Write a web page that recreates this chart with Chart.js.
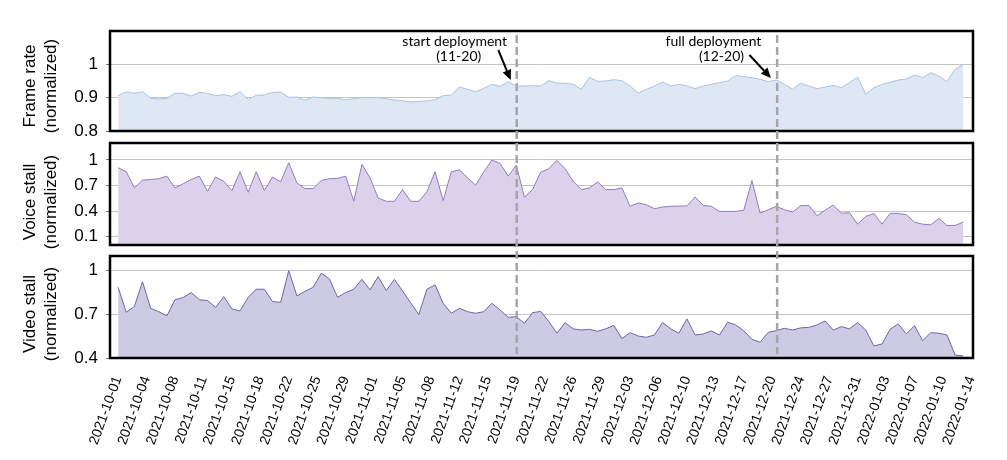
<!DOCTYPE html>
<html>
<head>
<meta charset="utf-8">
<title>Frame rate / voice stall / video stall</title>
<script src="https://cdn.jsdelivr.net/npm/chart.js@4.4.1/dist/chart.umd.min.js"></script>
<style>
  html, body { margin: 0; padding: 0; background: #fff; }
  #wrap { position: relative; width: 1007px; height: 460px; }
  #wrap canvas { position: absolute; left: 0; }
</style>
</head>
<body>
<div id="wrap">
  <canvas id="cFrame" width="1007" height="137" style="top:0"></canvas>
  <canvas id="cVoice" width="1007" height="114" style="top:137px"></canvas>
  <canvas id="cVideo" width="1007" height="209" style="top:251px"></canvas>
</div>
<script>
'use strict';

// one value per day, 2021-10-01 .. 2022-01-13
const frameRate = [
  0.906, 0.918, 0.913, 0.918, 0.899, 0.896, 0.898, 0.913, 0.913, 0.905,
  0.916, 0.913, 0.906, 0.909, 0.904, 0.918, 0.895, 0.907, 0.908, 0.916,
  0.917, 0.901, 0.902, 0.892, 0.902, 0.900, 0.898, 0.898, 0.894, 0.897,
  0.900, 0.900, 0.900, 0.897, 0.893, 0.891, 0.887, 0.889, 0.890, 0.894,
  0.906, 0.908, 0.932, 0.925, 0.918, 0.928, 0.940, 0.934, 0.948, 0.935,
  0.935, 0.936, 0.935, 0.951, 0.944, 0.943, 0.940, 0.925, 0.961, 0.949,
  0.950, 0.954, 0.951, 0.935, 0.914, 0.925, 0.935, 0.947, 0.935, 0.940,
  0.935, 0.927, 0.935, 0.940, 0.945, 0.950, 0.966, 0.963, 0.960, 0.955,
  0.948, 0.953, 0.940, 0.925, 0.944, 0.935, 0.927, 0.932, 0.937, 0.930,
  0.945, 0.962, 0.910, 0.930, 0.940, 0.946, 0.953, 0.956, 0.968, 0.960,
  0.975, 0.965, 0.948, 0.985, 1.000
];
const voiceStall = [
  0.909, 0.862, 0.672, 0.763, 0.771, 0.780, 0.810, 0.672, 0.720, 0.771,
  0.810, 0.632, 0.800, 0.750, 0.640, 0.862, 0.620, 0.862, 0.640, 0.800,
  0.743, 0.968, 0.730, 0.664, 0.664, 0.759, 0.780, 0.783, 0.810, 0.514,
  0.949, 0.790, 0.553, 0.514, 0.514, 0.652, 0.514, 0.514, 0.625, 0.862,
  0.522, 0.862, 0.885, 0.790, 0.704, 0.862, 1.000, 0.960, 0.810, 0.940,
  0.561, 0.652, 0.858, 0.897, 0.996, 0.897, 0.750, 0.652, 0.672, 0.743,
  0.652, 0.652, 0.672, 0.455, 0.494, 0.474, 0.427, 0.447, 0.455, 0.458,
  0.460, 0.565, 0.466, 0.455, 0.395, 0.395, 0.395, 0.410, 0.759, 0.375,
  0.415, 0.455, 0.415, 0.387, 0.464, 0.464, 0.344, 0.410, 0.470, 0.375,
  0.380, 0.245, 0.336, 0.370, 0.245, 0.372, 0.372, 0.356, 0.269, 0.245,
  0.237, 0.312, 0.230, 0.230, 0.269
];
const videoStall = [
  0.885, 0.714, 0.753, 0.924, 0.741, 0.718, 0.689, 0.800, 0.815, 0.849,
  0.800, 0.794, 0.748, 0.821, 0.737, 0.723, 0.817, 0.872, 0.872, 0.787,
  0.782, 1.000, 0.826, 0.858, 0.885, 0.982, 0.943, 0.817, 0.849, 0.872,
  0.940, 0.867, 0.959, 0.863, 0.940, 0.860, 0.780, 0.698, 0.872, 0.902,
  0.776, 0.707, 0.741, 0.718, 0.707, 0.718, 0.776, 0.730, 0.679, 0.684,
  0.638, 0.711, 0.720, 0.650, 0.570, 0.643, 0.600, 0.592, 0.597, 0.583,
  0.600, 0.624, 0.533, 0.574, 0.551, 0.542, 0.558, 0.643, 0.600, 0.570,
  0.668, 0.558, 0.565, 0.586, 0.558, 0.645, 0.627, 0.586, 0.528, 0.508,
  0.576, 0.588, 0.604, 0.592, 0.607, 0.610, 0.627, 0.654, 0.592, 0.615,
  0.600, 0.643, 0.592, 0.483, 0.496, 0.597, 0.634, 0.565, 0.622, 0.519,
  0.574, 0.570, 0.558, 0.420, 0.414
];

// x tick labels, one every 3.5 days from 2021-10-01
const tickLabels = [
  '2021-10-01', '2021-10-04', '2021-10-08', '2021-10-11', '2021-10-15', '2021-10-18',
  '2021-10-22', '2021-10-25', '2021-10-29', '2021-11-01', '2021-11-05', '2021-11-08',
  '2021-11-12', '2021-11-15', '2021-11-19', '2021-11-22', '2021-11-26', '2021-11-29',
  '2021-12-03', '2021-12-06', '2021-12-10', '2021-12-13', '2021-12-17', '2021-12-20',
  '2021-12-24', '2021-12-27', '2021-12-31', '2022-01-03', '2022-01-07', '2022-01-10',
  '2022-01-14'
];
const TICK_STEP = 3.5;

const yTicksFrame = [0.8, 0.9, 1];
const yTicksVoice = [0.1, 0.4, 0.7, 1];
const yTicksVideo = [0.4, 0.7, 1];

// deployment markers (day index from 2021-10-01)
const deployDays = [49.05, 81.1];
const deployTitles = ['start deployment', 'full deployment'];
const deployDates = ['(11-20)', '(12-20)'];

Chart.defaults.font.family = '"Liberation Sans", Arial, Helvetica, sans-serif';
Chart.defaults.color = '#000';

const DASH_TOP = 35;
const TITLE_X = [30, 51];

function fmtY(v){ return v === 1 ? '1' : v.toFixed(1); }

function decoPlugin(o){
  return {
    id: 'deco',
    afterDraw(chart){
      const ctx = chart.ctx, a = chart.chartArea, xs = chart.scales.x;
      ctx.save();

      // axis title (two lines, rotated)
      ctx.fillStyle = '#000';
      ctx.font = '17px "Liberation Sans", Arial, sans-serif';
      ctx.textAlign = 'center';
      ctx.textBaseline = 'middle';
      o.title.forEach((line, k) => {
        ctx.save();
        ctx.translate(TITLE_X[k], o.titleY);
        ctx.rotate(-Math.PI / 2);
        ctx.fillText(line, 0, 0);
        ctx.restore();
      });

      // frame
      ctx.strokeStyle = '#000';
      ctx.lineWidth = 2.5;
      ctx.strokeRect(a.left, a.top, a.right - a.left, a.bottom - a.top);

      // dashed deployment lines, phase kept continuous across canvases
      ctx.strokeStyle = '#a6a6a6';
      ctx.lineWidth = 2.5;
      ctx.setLineDash([8, 4]);
      deployDays.forEach(d => {
        const px = xs.getPixelForValue(d);
        ctx.lineDashOffset = o.top + o.dashFrom - DASH_TOP;
        ctx.beginPath();
        ctx.moveTo(px, o.dashFrom);
        ctx.lineTo(px, o.dashTo);
        ctx.stroke();
      });
      ctx.setLineDash([]);

      // annotations with arrows
      if (o.notes) {
        o.notes.forEach((n, k) => {
          const lx = xs.getPixelForValue(deployDays[k]);
          ctx.fillStyle = '#000';
          ctx.font = '14px Lato, "Open Sans", sans-serif';
          ctx.textAlign = 'center';
          ctx.textBaseline = 'alphabetic';
          ctx.fillText(deployTitles[k], lx + n.dx1, 46);
          ctx.fillText(deployDates[k], lx + n.dx2, 61);

          const x0 = lx + n.ax0, y0 = n.ay0, x1 = lx + n.ax1, y1 = n.ay1;
          const ang = Math.atan2(y1 - y0, x1 - x0);
          const hl = 10, hw = 4.5;
          const bx = x1 - hl * Math.cos(ang), by = y1 - hl * Math.sin(ang);
          ctx.strokeStyle = '#000';
          ctx.lineWidth = 2;
          ctx.beginPath();
          ctx.moveTo(x0, y0);
          ctx.lineTo(bx, by);
          ctx.stroke();
          ctx.beginPath();
          ctx.moveTo(x1, y1);
          ctx.lineTo(bx + hw * Math.sin(ang), by - hw * Math.cos(ang));
          ctx.lineTo(bx - hw * Math.sin(ang), by + hw * Math.cos(ang));
          ctx.closePath();
          ctx.fill();
        });
      }
      ctx.restore();
    }
  };
}

function noEdgePadding(s){
  s.paddingTop = 0;
  s.paddingBottom = 0;
  s.paddingLeft = 0;
  s.paddingRight = 0;
}

function makePanel(id, cfg){
  const showX = !!cfg.showX;
  return new Chart(document.getElementById(id), {
    type: 'line',
    data: {
      datasets: [{
        data: cfg.values.map((v, i) => ({ x: i, y: v })),
        borderColor: cfg.line,
        backgroundColor: cfg.fill,
        borderWidth: 1,
        pointRadius: 0,
        tension: 0,
        fill: 'start'
      }]
    },
    options: {
      responsive: false,
      animation: false,
      events: [],
      layout: { padding: { left: 0, right: 34, top: cfg.padTop, bottom: cfg.padBottom } },
      plugins: { legend: { display: false }, tooltip: { enabled: false } },
      scales: {
        x: {
          type: 'linear',
          min: -1,
          max: 105.2,
          display: showX,
          grid: { display: false },
          border: { display: false },
          afterBuildTicks: s => { s.ticks = tickLabels.map((t, k) => ({ value: k * TICK_STEP })); },
          afterFit: s => { noEdgePadding(s); if (showX) s.height = 102; },
          ticks: {
            autoSkip: false,
            minRotation: 70,
            maxRotation: 70,
            padding: 8,
            font: { size: 14 },
            color: '#000',
            callback: (v, idx) => tickLabels[idx]
          }
        },
        y: {
          min: cfg.min,
          max: cfg.max,
          z: 1,
          afterBuildTicks: s => { s.ticks = cfg.yTicks.map(v => ({ value: v })); },
          afterFit: s => { noEdgePadding(s); s.width = 110; },
          grid: { color: '#c4c4c4', lineWidth: 1, drawTicks: true, tickLength: 4, tickColor: '#777' },
          border: { display: false },
          ticks: { font: { size: 17 }, color: '#000', padding: 8, callback: v => fmtY(v) }
        }
      }
    },
    plugins: [decoPlugin(cfg.deco)]
  });
}

makePanel('cFrame', {
  values: frameRate, min: 0.8, max: 1.1, yTicks: yTicksFrame,
  line: '#a9c3e3', fill: '#dee8f5',
  padTop: 31, padBottom: 6,
  deco: {
    title: ['Frame rate', '(normalized)'], titleY: 86, top: 0, dashFrom: DASH_TOP, dashTo: 137,
    notes: [
      { dx1: -62, dx2: -58, ax0: -18.4, ay0: 50, ax1: -6, ay1: 80 },
      { dx1: -63.7, dx2: -55.7, ax0: -27.7, ay0: 55, ax1: -6.2, ay1: 78 }
    ]
  }
});

makePanel('cVoice', {
  values: voiceStall, min: 0, max: 1.2, yTicks: yTicksVoice,
  line: '#8e7dc2', fill: '#dcd1ea',
  padTop: 6, padBottom: 6,
  deco: { title: ['Voice stall', '(normalized)'], titleY: 65, top: 137, dashFrom: 0, dashTo: 114 }
});

makePanel('cVideo', {
  values: videoStall, min: 0.4, max: 1.1, yTicks: yTicksVideo,
  line: '#6b66a8', fill: '#cdcae4',
  padTop: 5, padBottom: 0, showX: true,
  deco: { title: ['Video stall', '(normalized)'], titleY: 63, top: 251, dashFrom: 0, dashTo: 103 }
});
</script>
</body>
</html>
